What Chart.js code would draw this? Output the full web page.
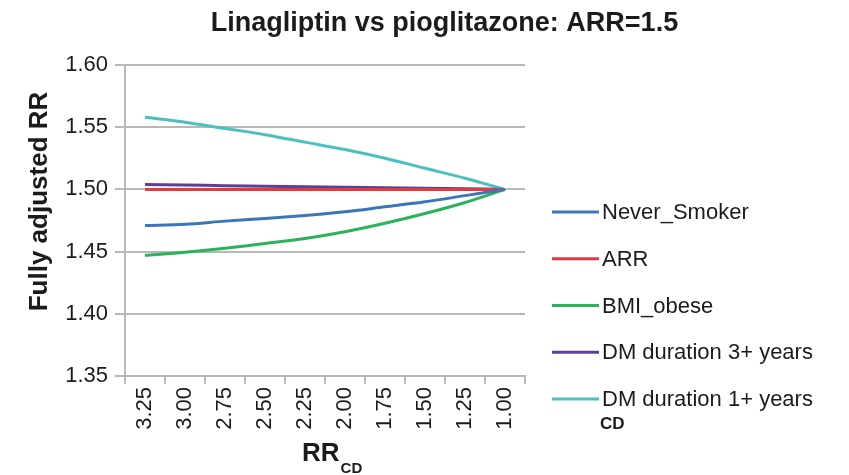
<!DOCTYPE html>
<html>
<head>
<meta charset="utf-8">
<script src="https://cdn.jsdelivr.net/npm/chart.js@4/dist/chart.umd.min.js"></script>
<style>
  html, body { margin: 0; padding: 0; background: #ffffff; }
  #wrap { width: 849px; height: 475px; position: relative; }
</style>
</head>
<body>
<div id="wrap"><canvas id="c" width="849" height="475"></canvas></div>
<script>
// RR_CD values along the x axis (descending)
const rrCD = ['3.25', '3.00', '2.75', '2.50', '2.25', '2.00', '1.75', '1.50', '1.25', '1.00'];

// Fully adjusted RR for each confounder scenario
const neverSmoker = [1.471, 1.472, 1.4745, 1.4766, 1.479, 1.482, 1.486, 1.490, 1.495, 1.500];
const arrLine     = [1.500, 1.500, 1.500, 1.500, 1.500, 1.500, 1.500, 1.500, 1.500, 1.500];
const bmiObese    = [1.447, 1.4495, 1.4527, 1.4565, 1.4606, 1.466, 1.4728, 1.4806, 1.4895, 1.500];
const dmDur3      = [1.504, 1.5035, 1.503, 1.5026, 1.5022, 1.5018, 1.5013, 1.5009, 1.5005, 1.500];
const dmDur1      = [1.558, 1.554, 1.549, 1.544, 1.538, 1.532, 1.525, 1.517, 1.509, 1.500];

const seriesNames = ['Never_Smoker', 'ARR', 'BMI_obese', 'DM duration 3+ years', 'DM duration 1+ years'];
const yTicks = [1.35, 1.40, 1.45, 1.50, 1.55, 1.60];

const colors = ['#3b76b8', '#e5383f', '#2cb25a', '#5d3f95', '#4cc0bd'];
const gridGray = '#b8b8b8';
const textColor = '#1b1b1b';
const FONT = '"Liberation Sans", Arial, Helvetica, sans-serif';

const seriesData = [neverSmoker, arrLine, bmiObese, dmDur3, dmDur1];

// Title, axis titles and legend drawn on the canvas
const textLayer = {
  id: 'textLayer',
  afterDraw(chart) {
    const ctx = chart.ctx;
    ctx.save();
    ctx.fillStyle = textColor;

    // chart title
    ctx.font = 'bold 27px ' + FONT;
    ctx.textAlign = 'center';
    ctx.textBaseline = 'alphabetic';
    ctx.fillText('Linagliptin vs pioglitazone: ARR=1.5', 444.5, 31);

    // y axis title
    ctx.save();
    ctx.translate(47, 201.5);
    ctx.rotate(-Math.PI / 2);
    ctx.font = 'bold 26px ' + FONT;
    ctx.textAlign = 'center';
    ctx.fillText('Fully adjusted RR', 0, 0);
    ctx.restore();

    // x axis title with subscript
    ctx.textAlign = 'left';
    ctx.font = 'bold 26px ' + FONT;
    ctx.fillText('RR', 302, 461);
    const rrW = ctx.measureText('RR').width;
    ctx.font = 'bold 15px ' + FONT;
    ctx.fillText('CD', 302 + rrW + 1, 473);

    // legend
    const ds = chart.data.datasets;
    ctx.font = '22px ' + FONT;
    ctx.textBaseline = 'middle';
    ds.forEach((d, i) => {
      const y = 212 + i * 46.75;
      ctx.strokeStyle = d.borderColor;
      ctx.lineWidth = 3;
      ctx.lineCap = 'butt';
      ctx.beginPath();
      ctx.moveTo(552, y);
      ctx.lineTo(599, y);
      ctx.stroke();
      ctx.fillStyle = textColor;
      ctx.fillText(d.label, 602, y + 1);
    });

    // trailing subscript under the legend
    ctx.textBaseline = 'alphabetic';
    ctx.font = 'bold 17px ' + FONT;
    ctx.fillText('CD', 600, 429);

    ctx.restore();
  }
};

new Chart(document.getElementById('c'), {
  type: 'line',
  data: {
    labels: rrCD,
    datasets: seriesNames.map((name, i) => ({
      label: name,
      data: seriesData[i],
      borderColor: colors[i],
      backgroundColor: colors[i],
      borderWidth: 3,
      pointRadius: 0,
      tension: 0.3,
      fill: false
    }))
  },
  options: {
    responsive: false,
    animation: false,
    devicePixelRatio: 1,
    layout: { padding: { left: 0, right: 324, top: 65, bottom: 0 } },
    plugins: {
      legend: { display: false },
      title: { display: false },
      tooltip: { enabled: false }
    },
    scales: {
      x: {
        type: 'category',
        offset: true,
        grid: {
          offset: true,
          drawOnChartArea: false,
          drawTicks: true,
          tickLength: 8,
          color: gridGray,
          lineWidth: 2
        },
        border: { display: true, color: gridGray, width: 2 },
        ticks: {
          color: textColor,
          font: { family: FONT, size: 22 },
          minRotation: 90,
          maxRotation: 90,
          autoSkip: false,
          padding: 3
        },
        afterFit(scale) { scale.height = 99; }
      },
      y: {
        min: 1.35,
        max: 1.60,
        afterBuildTicks(scale) { scale.ticks = yTicks.map(v => ({ value: v })); },
        grid: {
          color: gridGray,
          lineWidth: 2,
          drawTicks: true,
          tickLength: 10
        },
        border: { display: true, color: gridGray, width: 2 },
        ticks: {
          color: textColor,
          font: { family: FONT, size: 22 },
          padding: 7,
          callback: (v) => Number(v).toFixed(2)
        },
        afterFit(scale) { scale.width = 125; }
      }
    }
  },
  plugins: [textLayer]
});
</script>
</body>
</html>
